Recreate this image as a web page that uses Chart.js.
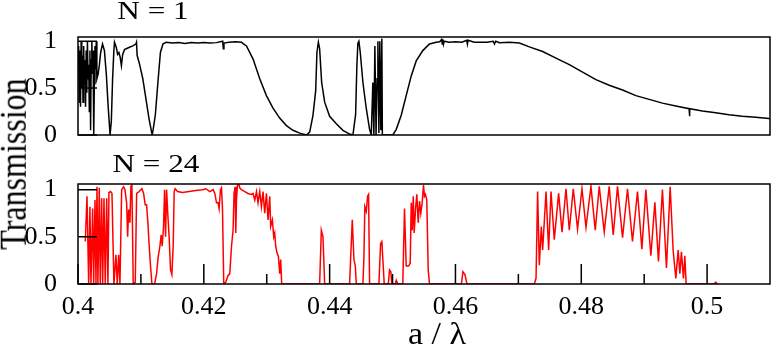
<!DOCTYPE html>
<html lang="en">
<head>
<meta charset="UTF-8">
<title>Transmission vs a/lambda</title>
<script src="https://cdn.jsdelivr.net/npm/chart.js"></script>
<style>
  body { margin: 0; width: 772px; height: 349px; position: relative; overflow: hidden; background: #fff; font-family: "Liberation Serif", serif; }
  canvas { position: absolute; left: 0; }
  #top { top: 0; width: 772px; height: 165px; }
  #bottom { top: 150px; width: 772px; height: 199px; }
  .lbl { position: absolute; white-space: nowrap; color: #000; line-height: 1; }
  #t1 { left: 153px; top: 11px; font-size: 26px; transform: translate(-50%, -50%) scaleX(1.2); }
  #t24 { left: 156px; top: 164px; font-size: 26px; transform: translate(-50%, -50%) scaleX(1.2); }
  #ylab { left: 13px; top: 164px; font-size: 32px; transform: translate(-50%, -50%) rotate(-90deg) scaleY(1.18); }
  #xlab { left: 437px; top: 333px; font-size: 31px; transform: translate(-50%, -50%) scaleX(1.1); }
</style>
</head>
<body>
<canvas id="top" width="772" height="165"></canvas>
<canvas id="bottom" width="772" height="199"></canvas>
<div class="lbl" id="t1">N = 1</div>
<div class="lbl" id="t24">N = 24</div>
<div class="lbl" id="ylab">Transmission</div>
<div class="lbl" id="xlab">a / λ</div>
<script>
// axis ticks
const yTicks = [0, 0.5, 1];
const xTicks = [0.4, 0.42, 0.44, 0.46, 0.48, 0.5];
const xMinorTicks = [0.41, 0.43, 0.45, 0.47, 0.49];

// N = 1 (black)
const n1X = [0.4000,0.4001,0.4002,0.4003,0.4004,0.4005,0.4006,0.4007,0.4008,0.4009,
  0.4010,0.4011,0.4012,0.4013,0.4014,0.4015,0.4016,0.4017,0.4018,0.4019,
  0.4020,0.4021,0.4022,0.4023,0.4024,0.4025,0.4026,0.4027,0.4028,0.4029,
  0.4030,0.4032,0.4034,0.4036,0.4039,0.4042,0.4045,0.4048,0.4051,0.4053,
  0.4055,0.4057,0.4058,0.4061,0.4063,0.4065,0.4067,0.4069,0.4071,0.4074,
  0.4080,0.4087,0.4092,0.4093,0.4094,0.4096,0.4098,0.4103,0.4108,0.4113,
  0.4117,0.4118,0.4120,0.4123,0.4127,0.4131,0.4135,0.4140,0.4150,0.4160,
  0.4170,0.4180,0.4190,0.4200,0.4210,0.4220,0.4230,0.4231,0.4232,0.4240,
  0.4250,0.4260,0.42624,0.42678,0.42783,0.42889,0.42995,0.43100,0.43206,0.43313,
  0.43417,0.43524,0.4363,0.43683,0.43735,0.43778,0.43798,0.43821,0.43841,0.43873,
  0.43921,0.44000,0.44106,0.44211,0.44317,0.4437,0.44413,0.44433,0.44449,0.44465,
  0.44487,0.44529,0.44583,0.44635,0.44662,0.44687,0.44703,0.44719,0.44738,0.44754,
  0.44767,0.44783,0.44798,0.44814,0.4483,0.44838,0.449,0.45005,0.45059,0.45138,
  0.45217,0.45297,0.45376,0.45481,0.45587,0.45694,0.4575,0.4578,0.4579,0.4580,
  0.4581,0.4582,0.4590,0.4600,0.4610,0.4618,0.4619,0.4620,0.4630,0.4640,
  0.4650,0.4660,0.4662,0.4664,0.4670,0.46857,0.47016,0.47175,0.47386,0.47598,
  0.4781,0.48021,0.48233,0.48444,0.48656,0.48868,0.49079,0.4929,0.49503,0.49714,
  0.4972,0.49726,0.49925,0.50138,0.50349,0.5056,0.50773,0.50984,0.51];
const n1T = [0.70,0.95,0.35,0.90,0.30,1.00,0.50,0.85,0.35,0.95,
  0.55,0.80,0.30,0.90,0.45,1.00,0.60,0.75,0.25,0.90,
  0.05,0.80,1.00,0.65,0.90,0.00,0.55,0.95,0.70,1.00,
  0.60,0.65,0.75,0.88,0.97,0.90,0.65,0.30,0.00,0.15,
  0.60,0.90,0.99,0.93,0.86,0.88,0.83,0.74,0.86,0.91,
  0.93,0.95,0.97,0.99,0.85,0.80,0.75,0.60,0.385,0.17,
  0.03,0.00,0.08,0.22,0.56,0.88,0.97,0.99,0.98,0.985,
  0.975,0.985,0.98,0.985,0.98,0.985,1.00,0.92,0.98,0.99,
  0.995,0.99,0.975,0.95,0.81,0.60,0.42,0.286,0.18,0.10,
  0.05,0.02,0.00,0.03,0.21,0.47,0.88,0.99,0.92,0.56,
  0.35,0.20,0.12,0.05,0.01,0.00,0.22,0.74,0.98,1.00,
  0.88,0.56,0.28,0.06,0.00,0.56,0.00,0.95,0.00,0.60,
  1.00,0.02,1.00,0.05,1.03,0.00,0.00,0.00,0.06,0.21,
  0.42,0.63,0.79,0.90,0.97,0.99,0.995,1.02,0.97,1.02,
  0.97,1.00,0.99,0.995,0.99,1.01,0.97,1.01,0.99,0.99,
  0.99,1.00,0.97,1.00,0.985,0.99,0.98,0.94,0.89,0.82,
  0.75,0.67,0.59,0.53,0.48,0.42,0.38,0.34,0.31,0.28,
  0.20,0.28,0.255,0.237,0.215,0.20,0.19,0.175,0.17];

// N = 24 (red)
const n24X = [0.40116,0.40143,0.40170,0.40190,0.40206,0.40233,0.40249,0.40270,0.40286,0.40302,
  0.40317,0.40338,0.40354,0.40376,0.40392,0.40413,0.40433,0.40456,0.40476,0.40492,
  0.40519,0.40540,0.40571,0.40603,0.40624,0.40646,0.40667,0.40694,0.40725,0.40746,
  0.40773,0.40789,0.40805,0.40825,0.40841,0.40857,0.40878,0.40910,0.40932,0.40973,
  0.41016,0.41043,0.41068,0.41090,0.41111,0.41132,0.41154,0.41175,0.41218,0.41249,
  0.41275,0.41302,0.41322,0.41338,0.41360,0.41376,0.41392,0.41408,0.41429,0.41449,
  0.41471,0.41492,0.41513,0.41529,0.41544,0.41583,0.41662,0.41767,0.41873,0.41979,
  0.42032,0.42095,0.42148,0.42175,0.42202,0.42227,0.42243,0.42265,0.42281,0.42297,
  0.42317,0.42349,0.42386,0.42413,0.42440,0.42465,0.42481,0.42497,0.42508,0.42519,
  0.42535,0.42556,0.42571,0.42598,0.42651,0.42703,0.42757,0.42783,0.42810,0.42837,
  0.42862,0.42889,0.42916,0.42941,0.42968,0.42995,0.43021,0.43048,0.43063,0.43090,
  0.43111,0.43127,0.43143,0.43163,0.43186,0.43206,0.43222,0.43238,0.43841,0.43868,
  0.43894,0.43921,0.44317,0.44360,0.44386,0.44408,0.44424,0.44529,0.44544,0.44560,
  0.44583,0.44603,0.44619,0.44635,0.44783,0.44810,0.44830,0.44846,0.44868,0.44932,
  0.44952,0.44973,0.44989,0.45043,0.45059,0.45084,0.45163,0.45190,0.45217,0.45254,
  0.45281,0.45297,0.45313,0.45329,0.45344,0.45365,0.45386,0.45408,0.45429,0.45449,
  0.45471,0.45492,0.45508,0.45524,0.45544,0.45567,0.45587,0.46095,0.46119,0.46151,
  0.46183,0.47254,0.47281,0.47306,0.47333,0.47365,0.47386,0.47440,0.47481,0.47519,
  0.47571,0.47640,0.47694,0.47757,0.47810,0.47873,0.47941,0.48011,0.48075,0.48154,
  0.48222,0.48286,0.48365,0.48444,0.48508,0.48576,0.48656,0.48735,0.48814,0.48894,
  0.48963,0.49027,0.49106,0.49170,0.49227,0.49290,0.49354,0.49413,0.49460,0.49503,
  0.49540,0.49567,0.49592,0.49624,0.49646,0.49667,0.50111,0.50138,0.50159];
const n24T = [0.45,0.93,0.00,0.82,0.00,0.80,0.00,0.89,0.00,1.03,
  0.00,1.02,0.00,0.91,0.00,0.91,0.00,0.91,0.00,0.97,
  0.98,0.96,0.00,0.31,0.00,0.31,0.00,1.00,1.03,1.00,
  0.86,0.50,0.79,0.65,1.035,1.05,0.00,0.02,0.96,0.98,
  1.01,0.96,0.84,0.84,0.65,0.40,0.18,0.00,0.00,0.11,
  0.29,0.40,0.52,0.40,0.61,1.00,0.50,1.00,0.72,0.50,
  0.15,0.10,0.40,0.98,1.01,0.98,0.97,0.98,0.99,1.00,
  1.01,0.98,1.00,0.96,0.86,0.86,0.80,1.00,1.02,0.79,
  0.00,0.02,0.09,0.11,0.40,0.57,0.96,1.03,0.54,0.89,
  1.05,1.06,1.02,1.00,0.98,0.96,0.95,0.96,0.89,0.98,
  0.86,0.98,0.82,0.98,0.75,0.96,0.68,0.93,0.61,0.68,
  0.50,0.54,0.40,0.33,0.29,0.11,0.26,0.00,0.00,0.57,
  0.50,0.00,0.00,0.68,0.26,0.19,0.00,0.00,0.26,0.82,
  0.77,0.93,0.95,0.00,0.00,0.43,0.45,0.26,0.00,0.00,
  0.15,0.13,0.00,0.00,0.04,0.00,0.00,0.80,0.19,0.19,
  0.22,0.86,0.57,0.93,0.54,0.79,0.95,0.65,0.88,0.75,
  0.86,1.05,0.93,0.95,0.89,0.15,0.00,0.00,0.13,0.10,
  0.00,0.00,0.06,0.98,0.20,0.61,0.36,0.98,0.36,0.98,
  0.47,0.96,0.55,1.01,0.57,1.01,0.58,1.01,0.60,1.035,
  0.57,1.035,0.55,1.035,0.52,1.035,0.49,1.01,0.45,0.98,
  0.37,1.00,0.30,0.865,0.24,1.00,0.17,1.03,0.36,0.06,
  0.36,0.11,0.34,0.06,0.30,0.00,0.00,0.02,0.00];

const tickFont = { family: 'Liberation Serif', size: 26 };

// frame box + inward ticks, like the original plot
const framePlugin = {
  id: 'frame',
  afterDatasetsDraw(chart, args, opts) {
    const { ctx, chartArea: a, scales: { x, y } } = chart;
    ctx.save();
    ctx.strokeStyle = '#000';
    ctx.lineWidth = 1.5;
    ctx.beginPath();
    yTicks.forEach(v => {
      const py = y.getPixelForValue(v);
      ctx.moveTo(a.left, py); ctx.lineTo(a.left + 19, py);
    });
    if (opts.xticks) {
      xTicks.forEach(v => {
        const px = x.getPixelForValue(v);
        ctx.moveTo(px, a.bottom); ctx.lineTo(px, a.bottom - 20);
      });
      xMinorTicks.forEach(v => {
        const px = x.getPixelForValue(v);
        ctx.moveTo(px, a.bottom); ctx.lineTo(px, a.bottom - 10);
      });
    }
    ctx.stroke();
    ctx.strokeRect(a.left, a.top, a.right - a.left, a.bottom - a.top);
    ctx.restore();
  }
};

// xAxisH: space under the plot box taken by the x axis (labels or blank)
function makePanel(id, xs, ts, color, ymax, padding, showLabels, xAxisH) {
  return new Chart(document.getElementById(id), {
    type: 'line',
    data: {
      datasets: [{
        data: xs.map((v, i) => ({ x: v, y: ts[i] })),
        borderColor: color,
        borderWidth: 1.5,
        pointRadius: 0,
        tension: 0,
        fill: false
      }]
    },
    options: {
      responsive: false,
      animation: false,
      layout: { padding: padding },
      plugins: { legend: { display: false }, tooltip: { enabled: false }, frame: { xticks: showLabels } },
      scales: {
        x: {
          type: 'linear', min: 0.4, max: 0.51,
          afterBuildTicks: s => { s.ticks = xTicks.map(v => ({ value: v })); },
          afterFit: s => { s.height = xAxisH; s.paddingLeft = 0; s.paddingRight = 0; },
          grid: { display: false },
          border: { display: false },
          ticks: { display: showLabels, padding: 0, color: '#000', font: tickFont, autoSkip: false, maxRotation: 0, callback: v => String(v) }
        },
        y: {
          min: 0, max: ymax,
          afterBuildTicks: s => { s.ticks = yTicks.map(v => ({ value: v })); },
          afterFit: s => { s.width = 78; },
          grid: { display: false },
          border: { display: false },
          ticks: { padding: 13, color: '#000', font: tickFont, callback: v => String(v) }
        }
      }
    },
    plugins: [framePlugin]
  });
}

// top canvas is a bit taller than its panel so the "0" label has room; it is transparent
makePanel('top', n1X, n1T, '#000000', 1.045, { top: 37, bottom: 0, right: 2, left: 0 }, false, 30);
makePanel('bottom', n24X, n24T, '#ff0000', 1.06, { top: 34, bottom: 0, right: 2, left: 0 }, true, 65);
</script>
</body>
</html>
